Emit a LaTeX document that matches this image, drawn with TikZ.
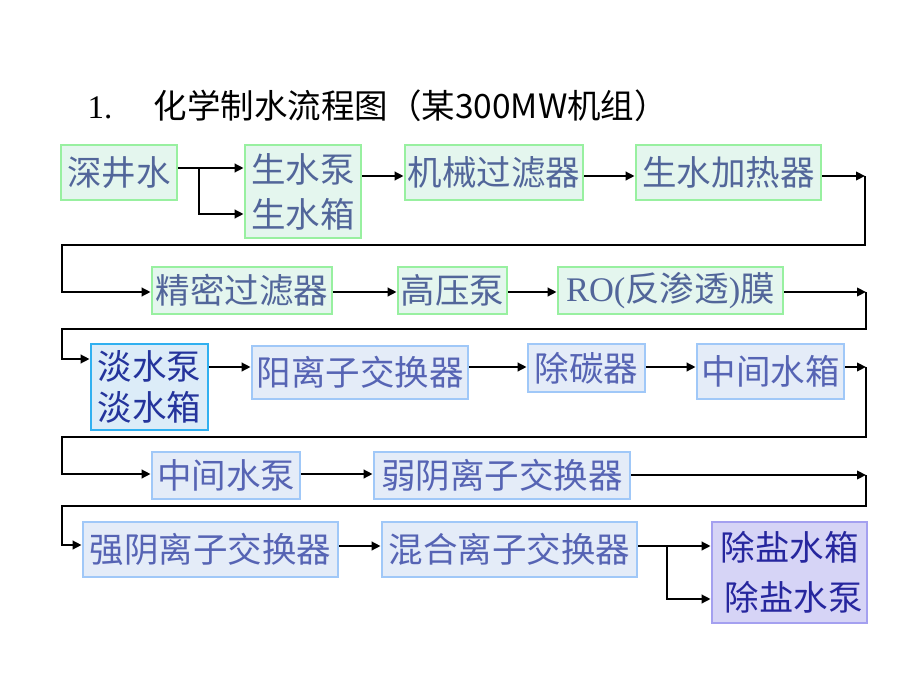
\documentclass[tikz,border=0pt]{standalone}
\usepackage{fontspec}
\newfontfamily\cjk{Noto Sans CJK SC}
\newfontfamily\ser{Liberation Serif}
\usetikzlibrary{arrows.meta}
\definecolor{gbord}{HTML}{98F0A0}
\definecolor{gfill}{HTML}{E4F6EE}
\definecolor{gtext}{HTML}{52669A}
\definecolor{bbord}{HTML}{A0C8F8}
\definecolor{bfill}{HTML}{E4ECF8}
\definecolor{btext}{HTML}{5664B4}
\definecolor{dbord}{HTML}{30B0F0}
\definecolor{dfill}{HTML}{DCECF8}
\definecolor{dtext}{HTML}{24349C}
\definecolor{pbord}{HTML}{A4A0F0}
\definecolor{pfill}{HTML}{D6D4F6}
\definecolor{ptext}{HTML}{26269E}
\begin{document}
\begin{tikzpicture}[x=1pt,y=-1pt,
  box/.style={rectangle, line width=2.8pt, inner sep=0pt, align=center,
    font=\cjk\fontsize{34.5}{45}\selectfont},
  gbox/.style={box, draw=gbord, fill=gfill, text=gtext},
  bbox/.style={box, draw=bbord, fill=bfill, text=btext},
  dbox/.style={box, draw=dbord, fill=dfill, text=dtext, font=\cjk\fontsize{34.5}{41}\selectfont},
  pbox/.style={box, draw=pbord, fill=pfill, text=ptext, font=\cjk\fontsize{34.5}{50}\selectfont},
  arr/.style={line width=2.8pt, -{Triangle[length=9pt,width=8.5pt]}},
  ttl/.style={anchor=base west, text=black}
]
\useasboundingbox[fill=white] (0,0) rectangle (920,690);

% title
\node[ttl, font=\ser\fontsize{33}{36}\selectfont] (tn) at (84,118) {1.};
\node[ttl, font=\cjk\fontsize{33.5}{36}\selectfont] (tt) at (150,118) {化学制水流程图（某300MW机组）};

% row 1
\node[gbox, minimum width=116pt, minimum height=55pt] (a) at (119,172.5) {深井水};
\node[gbox, minimum width=116pt, minimum height=93pt] (b) at (303,191.5) {生水泵\\生水箱};
\node[gbox, minimum width=178pt, minimum height=55pt] (c) at (494,172.5) {机械过滤器};
\node[gbox, minimum width=185pt, minimum height=55pt] (d) at (728.5,172.5) {生水加热器};
% row 2
\node[gbox, minimum width=180pt, minimum height=47pt] (e) at (242,290.5) {精密过滤器};
\node[gbox, minimum width=109pt, minimum height=47pt] (f) at (452.5,290.5) {高压泵};
\node[gbox, minimum width=225pt, minimum height=47pt] (g) at (670.5,290.5) {{\ser RO(}反渗透{\ser )}膜};
% row 3
\node[dbox, minimum width=117pt, minimum height=86pt] (h) at (149.5,387) {淡水泵\\淡水箱};
\node[bbox, minimum width=216pt, minimum height=53pt] (i) at (360,372.5) {阳离子交换器};
\node[bbox, minimum width=117pt, minimum height=48pt] (j) at (586.5,368) {除碳器};
\node[bbox, minimum width=147pt, minimum height=55pt] (k) at (770.5,371.5) {中间水箱};
% row 4
\node[bbox, minimum width=148pt, minimum height=47pt] (l) at (226,475.5) {中间水泵};
\node[bbox, minimum width=256pt, minimum height=47pt] (m) at (502,475.5) {弱阴离子交换器};
% row 5
\node[bbox, minimum width=255pt, minimum height=55pt] (n) at (210.5,549.5) {强阴离子交换器};
\node[bbox, minimum width=255pt, minimum height=55pt] (o) at (509.5,549.5) {混合离子交换器};
\node[pbox, minimum width=155pt, minimum height=101pt] (p) at (789.5,572.5) {除盐水箱\\\hspace*{8pt}除盐水泵};

% helper coordinates
\coordinate (br1) at (199,168);
\coordinate (r1) at (865,176);
\coordinate (s1) at (865,245);
\coordinate (u1) at (62,245);
\coordinate (r2) at (866,292);
\coordinate (s2) at (866,329);
\coordinate (u2) at (62,329);
\coordinate (r3) at (866,367);
\coordinate (s3) at (866,437);
\coordinate (u3) at (62,437);
\coordinate (r4) at (866,475);
\coordinate (s4) at (866,506);
\coordinate (u4) at (62,506);
\coordinate (br2) at (667,546);

% row 1 connectors
\draw[arr] ([yshift=4.5pt]a.east) -- ([yshift=23.5pt]b.west);
\draw[arr] (br1) |- ([yshift=-22.5pt]b.west);
\draw[arr] ([yshift=15.5pt]b.east) -- ([yshift=-3.5pt]c.west);
\draw[arr] ([yshift=-3.5pt]c.east) -- ([yshift=-3.5pt]d.west);
\draw[arr] ([yshift=-3.5pt]d.east) -- (r1);
\draw[arr] (r1) -- (s1) -- (u1) |- ([yshift=-1.5pt]e.west);
% row 2 connectors
\draw[arr] ([yshift=-1.5pt]e.east) -- ([yshift=-1.5pt]f.west);
\draw[arr] ([yshift=-1.5pt]f.east) -- ([yshift=-1.5pt]g.west);
\draw[arr] ([yshift=-1.5pt]g.east) -- (r2);
\draw[arr] (r2) -- (s2) -- (u2) |- ([yshift=28pt]h.west);
% row 3 connectors
\draw[arr] ([yshift=20pt]h.east) -- ([yshift=5.5pt]i.west);
\draw[arr] ([yshift=5.5pt]i.east) -- ([yshift=1pt]j.west);
\draw[arr] ([yshift=1pt]j.east) -- ([yshift=4.5pt]k.west);
\draw[arr] ([yshift=4.5pt]k.east) -- (r3);
\draw[arr] (r3) -- (s3) -- (u3) |- ([yshift=1.5pt]l.west);
% row 4 connectors
\draw[arr] ([yshift=1.5pt]l.east) -- ([yshift=1.5pt]m.west);
\draw[arr] ([yshift=0.5pt]m.east) -- (r4);
\draw[arr] (r4) -- (s4) -- (u4) |- ([yshift=4.5pt]n.west);
% row 5 connectors
\draw[arr] ([yshift=3.5pt]n.east) -- ([yshift=3.5pt]o.west);
\draw[arr] ([yshift=3.5pt]o.east) -- ([yshift=26.5pt]p.west);
\draw[arr] (br2) |- ([yshift=-26.5pt]p.west);
\end{tikzpicture}
\end{document}
